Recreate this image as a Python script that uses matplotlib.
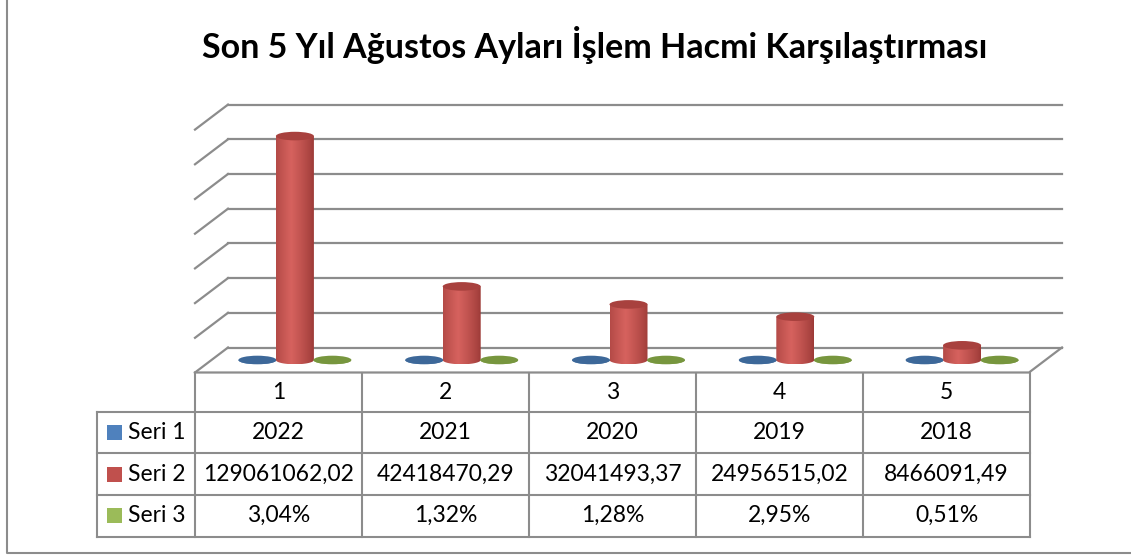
import numpy as np
import matplotlib.pyplot as plt
from matplotlib.patches import Ellipse, Polygon, Rectangle
from matplotlib.colors import LinearSegmentedColormap

plt.rcParams['font.family'] = ['Lato', 'DejaVu Sans']

title = "Son 5 Yıl Ağustos Ayları İşlem Hacmi Karşılaştırması"
categories = ['1', '2', '3', '4', '5']
series_names = ['Seri 1', 'Seri 2', 'Seri 3']
seri1 = [2022, 2021, 2020, 2019, 2018]
seri2 = [129061062.02, 42418470.29, 32041493.37, 24956515.02, 8466091.49]
seri3 = [3.04, 1.32, 1.28, 2.95, 0.51]
y_max = 140e6
y_step = 20e6

base_colors = ['#4F81BD', '#C0504D', '#9BBB59']
side_dark = ['#3A5F8C', '#9C3A37', '#6F8C3A']
side_light = ['#6A9AD0', '#D6625E', '#B0CC72']
top_colors = ['#3D6899', '#A8413E', '#77963E']
line_col = '#8c8c8c'

W, H = 1131, 555
fig = plt.figure(figsize=(W / 100, H / 100), dpi=100)
bg = fig.add_axes([0, 0, 1, 1])
bg.set_xlim(0, W)
bg.set_ylim(H, 0)
bg.axis('off')

# plot area (mid-depth plane), value scale on y
px_x = 834 / 5
px_y = 242.9 / y_max
y_min = -15e6
bottom_px = 360 - y_min * px_y
ax = fig.add_axes([211.5 / W, (H - bottom_px) / H, 834 / W, (bottom_px - 117.1) / H])
ax.set_xlim(0.5, 5.5)
ax.set_ylim(y_min, y_max)
ax.axis('off')

DX = 16.5 / px_x
DY = 12.5 / px_y
EH = 4.3 / px_y          # half height of cylinder ellipses
CW = 38 / px_x           # cylinder width
OFF = 37.5 / px_x        # series offset

# back wall + left wall gridlines
for v in np.arange(0, y_max + 1, y_step):
    ax.plot([0.5 + DX, 5.5 + DX], [v + DY, v + DY], color=line_col, lw=1.6, clip_on=False, zorder=1)
    ax.plot([0.5 - DX, 0.5 + DX], [v - DY, v + DY], color=line_col, lw=1.6, clip_on=False, zorder=1)
# floor
ax.plot([0.5 - DX, 5.5 - DX, 5.5 + DX], [-DY, -DY, DY], color=line_col, lw=1.6, clip_on=False, zorder=1)

t = np.linspace(0, 1, 64)
prof = np.clip(1 - np.abs(t - 0.4) / 0.6, 0, 1) ** 0.8


def cylinder(x, h, k, z):
    cmap = LinearSegmentedColormap.from_list('c%d' % k, [side_dark[k], side_light[k]])
    a = np.linspace(np.pi, 2 * np.pi, 40)
    verts = [(x - CW / 2, h)] + list(zip(x + CW / 2 * np.cos(a), EH * np.sin(a))) + [(x + CW / 2, h)]
    body = Polygon(verts, closed=True, facecolor='none', edgecolor='none')
    ax.add_patch(body)
    im = ax.imshow(prof[None, :], cmap=cmap, aspect='auto', vmin=0, vmax=1,
                   extent=[x - CW / 2, x + CW / 2, -EH, h], zorder=z)
    im.set_clip_path(body)
    ax.add_patch(Ellipse((x, h), CW, 2 * EH, facecolor=top_colors[k], edgecolor='none',
                         zorder=z + 0.5))


all_series = [seri1, seri2, seri3]
for i in range(len(categories)):
    for k, vals in enumerate(all_series):
        cylinder(i + 1 + (k - 1) * OFF, vals[i], k, 3 + k)
ax.set_xlim(0.5, 5.5)
ax.set_ylim(y_min, y_max)

# data table
col_x = [195 + 167 * j for j in range(6)]
row_y = [372.5, 411.7, 453.3, 495, 536.5]
fs = 16.5
for j in range(6):
    bg.plot([col_x[j], col_x[j]], [row_y[0], row_y[-1]], color=line_col, lw=1.5)
bg.plot([97, 97], [row_y[1], row_y[-1]], color=line_col, lw=1.5)
for r in range(1, 5):
    bg.plot([97, col_x[-1]], [row_y[r], row_y[r]], color=line_col, lw=1.5)

for j, c in enumerate(categories):
    bg.text(col_x[j] + 83.5, (row_y[0] + row_y[1]) / 2, c, ha='center', va='center', fontsize=fs)

cells = [
    [str(v) for v in seri1],
    [('%.2f' % v).replace('.', ',') for v in seri2],
    [('%.2f%%' % v).replace('.', ',') for v in seri3],
]
for r in range(3):
    yc = (row_y[r + 1] + row_y[r + 2]) / 2
    bg.add_patch(Rectangle((107, yc - 7.5), 15, 15, facecolor=base_colors[r], edgecolor='none'))
    bg.text(128, yc, series_names[r], ha='left', va='center', fontsize=fs)
    for j in range(5):
        bg.text(col_x[j] + 83.5, yc, cells[r][j], ha='center', va='center', fontsize=fs)

bg.text(595, 45, title, ha='center', va='center', fontsize=24.5, fontweight='bold')

# chart border
bg.plot([7, 7, W], [0, 552.5, 552.5], color=line_col, lw=1.5)

fig.savefig('out.png', dpi=100)
